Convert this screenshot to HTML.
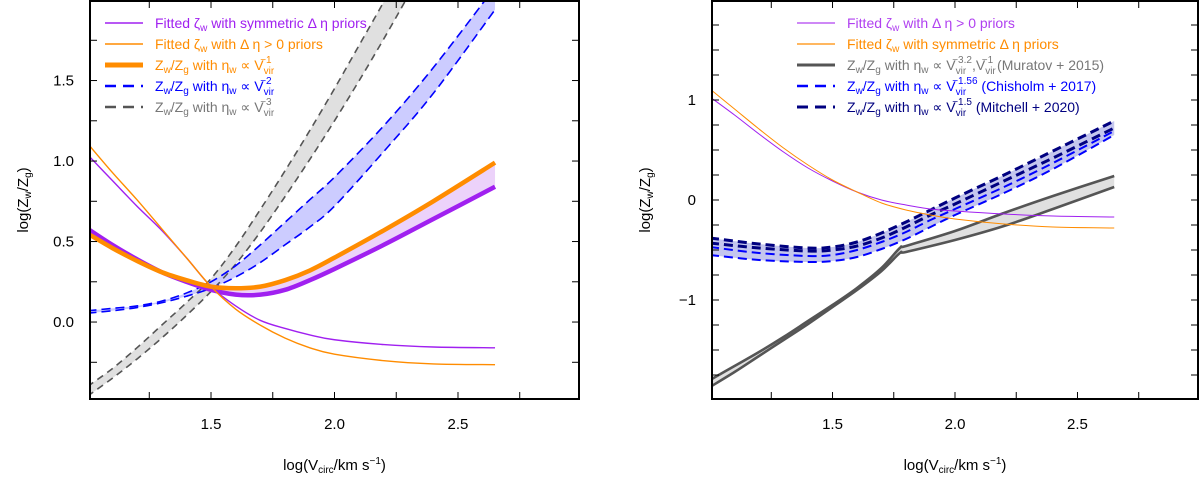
<!DOCTYPE html>
<html><head><meta charset="utf-8">
<style>
html,body{margin:0;padding:0;background:#fff;}
svg{display:block;font-family:"Liberation Sans",Arial,sans-serif;}
</style></head>
<body>
<svg id="fig" width="1200" height="479" viewBox="0 0 1200 479" xmlns="http://www.w3.org/2000/svg">
<defs>
<clipPath id="clipL"><rect x="90" y="1" width="489" height="398"/></clipPath>
<clipPath id="clipR"><rect x="712" y="1" width="486" height="398"/></clipPath>
</defs>
<g id="left"></g>
<g id="right"></g>
</svg>
<script>
// ---------- data: left panel ----------
const xL = [1.0,1.1,1.2,1.3,1.4,1.5,1.6,1.7,1.8,1.9,2.0,2.2,2.4,2.65];
const fitSymL = [1.04,0.88,0.72,0.57,0.40,0.22,0.10,0.01,-0.04,-0.08,-0.11,-0.14,-0.155,-0.16];
const fitPosL = [1.11,0.93,0.76,0.58,0.40,0.22,0.08,-0.02,-0.10,-0.16,-0.20,-0.24,-0.26,-0.265];
const v1Purple = [0.58,0.48,0.39,0.31,0.25,0.20,0.17,0.17,0.20,0.26,0.33,0.48,0.64,0.84];
const v1Orange = [0.55,0.46,0.38,0.31,0.26,0.22,0.21,0.22,0.26,0.32,0.40,0.57,0.75,0.99];
const v2Upper = [0.07,0.085,0.10,0.13,0.18,0.25,0.35,0.48,0.62,0.76,0.90,1.22,1.58,2.08];
const v2Lower = [0.055,0.07,0.09,0.12,0.16,0.21,0.28,0.37,0.48,0.59,0.72,1.06,1.42,1.94];
const xG = [1.0,1.1,1.2,1.3,1.4,1.5,1.6,1.7,1.8,1.9,2.0,2.1,2.2,2.3];
const v3Upper = [-0.40,-0.29,-0.16,-0.02,0.12,0.27,0.47,0.70,0.94,1.19,1.45,1.72,1.99,2.27];
const v3Lower = [-0.46,-0.35,-0.23,-0.10,0.04,0.19,0.36,0.56,0.78,1.01,1.25,1.50,1.76,2.03];
const yTicksL = [0.0,0.5,1.0,1.5];
const xTicks = [1.5,2.0,2.5];

// ---------- data: right panel ----------
const xR = [1.0,1.1,1.2,1.3,1.4,1.5,1.6,1.7,1.8,1.9,2.0,2.2,2.4,2.65];
const fitPosR = [1.03,0.85,0.66,0.48,0.32,0.19,0.08,0.0,-0.05,-0.09,-0.11,-0.14,-0.16,-0.17];
const fitSymR = [1.11,0.91,0.71,0.52,0.35,0.20,0.08,-0.03,-0.10,-0.15,-0.19,-0.24,-0.27,-0.28];
const xM = [1.0,1.1,1.2,1.3,1.4,1.5,1.6,1.7,1.775,1.8,2.0,2.2,2.4,2.65];
const murUpper = [-1.80,-1.66,-1.52,-1.37,-1.21,-1.05,-0.88,-0.68,-0.48,-0.46,-0.31,-0.13,0.04,0.24];
const murLower = [-1.87,-1.72,-1.56,-1.40,-1.24,-1.07,-0.90,-0.71,-0.53,-0.52,-0.40,-0.26,-0.09,0.13];
const xB = [1.0,1.2,1.4,1.5,1.6,1.7,1.8,1.9,2.0,2.2,2.4,2.65];
const mitUpper = [-0.38,-0.44,-0.48,-0.47,-0.42,-0.33,-0.22,-0.10,0.02,0.25,0.49,0.79];
const mitLower = [-0.43,-0.48,-0.51,-0.50,-0.46,-0.38,-0.27,-0.15,-0.04,0.19,0.42,0.72];
const chiUpper = [-0.47,-0.53,-0.56,-0.55,-0.50,-0.42,-0.32,-0.20,-0.09,0.13,0.37,0.69];
const chiLower = [-0.55,-0.60,-0.62,-0.61,-0.57,-0.49,-0.39,-0.27,-0.15,0.07,0.31,0.65];
const yTicksR = [-1,0,1];

const NS = "http://www.w3.org/2000/svg";
function mk(tag, attrs, parent){const e=document.createElementNS(NS,tag);for(const k in attrs)e.setAttribute(k,attrs[k]);parent.appendChild(e);return e;}

function smoothPath(pts){
  let d = "M"+pts[0][0].toFixed(2)+","+pts[0][1].toFixed(2);
  for(let i=0;i<pts.length-1;i++){
    const p0=pts[Math.max(0,i-1)],p1=pts[i],p2=pts[i+1],p3=pts[Math.min(pts.length-1,i+2)];
    const c1=[p1[0]+(p2[0]-p0[0])/6,p1[1]+(p2[1]-p0[1])/6];
    const c2=[p2[0]-(p3[0]-p1[0])/6,p2[1]-(p3[1]-p1[1])/6];
    d+=" C"+c1[0].toFixed(2)+","+c1[1].toFixed(2)+" "+c2[0].toFixed(2)+","+c2[1].toFixed(2)+" "+p2[0].toFixed(2)+","+p2[1].toFixed(2);
  }
  return d;
}
function revPath(pts){return smoothPath(pts.slice().reverse()).replace(/^M/,"L");}

function makePanel(g, ax, clipId){
  const X = v => ax.x0 + (v-ax.xmin)/(ax.xmax-ax.xmin)*(ax.x1-ax.x0);
  const Y = v => ax.y1 - (v-ax.ymin)/(ax.ymax-ax.ymin)*(ax.y1-ax.y0);
  const plot = mk("g",{"clip-path":"url(#"+clipId+")"},g);
  return {X,Y,plot};
}
function pts(P,xs,ys){return xs.map((x,i)=>[P.X(x),P.Y(ys[i])]);}
function band(P,xs,a,b,fill,name){
  const pa=pts(P,xs,a), pb=pts(P,xs,b);
  const e=mk("path",{d:smoothPath(pa)+" "+revPath(pb)+" Z",fill:fill,stroke:"none"},P.plot);
  
  
}
function line(P,xs,ys,color,w,dash,name){
  const e=mk("path",{d:smoothPath(pts(P,xs,ys)),fill:"none",stroke:color,"stroke-width":w,"stroke-dasharray":dash||"none","stroke-linecap":"butt"},P.plot);
  
  
}
function frame(g,P,ax,yt,yMinorStep,yfmt){
  const f=mk("rect",{x:ax.x0,y:ax.y0,width:ax.x1-ax.x0,height:ax.y1-ax.y0,fill:"none",stroke:"#000","stroke-width":2},g);
  
  
  for(let v=1.25; v<=2.76; v+=0.25){
    const x=P.X(v);
    mk("line",{x1:x,x2:x,y1:ax.y1,y2:ax.y1-7,stroke:"#000","stroke-width":1},g);
    mk("line",{x1:x,x2:x,y1:ax.y0,y2:ax.y0+7,stroke:"#000","stroke-width":1},g);
  }
  const start=Math.ceil(ax.ymin/yMinorStep)*yMinorStep;
  for(let v=start; v<ax.ymax; v+=yMinorStep){
    const y=P.Y(v);
    mk("line",{x1:ax.x0,x2:ax.x0+7,y1:y,y2:y,stroke:"#000","stroke-width":1},g);
    mk("line",{x1:ax.x1,x2:ax.x1-7,y1:y,y2:y,stroke:"#000","stroke-width":1},g);
  }
  xTicks.forEach(v=>{
    const t=mk("text",{x:P.X(v),y:429,"text-anchor":"middle","font-size":15,fill:"#000"},g);
    t.textContent=v.toFixed(1);
    
    
  });
  yt.forEach(v=>{
    const t=mk("text",{x:ax.x0-16,y:P.Y(v)+5,"text-anchor":"end","font-size":15,fill:"#000"},g);
    t.textContent=yfmt(v);
    
    
  });
  const xt=mk("text",{x:(ax.x0+ax.x1)/2,y:470,"text-anchor":"middle","font-size":15,fill:"#000"},g);
  xt.innerHTML='log(V<tspan font-size="10" dy="3">circ</tspan><tspan dy="-3">/km s</tspan><tspan font-size="10" dy="-6">−1</tspan><tspan dy="6">)</tspan>';
  
  
  const yx=ax.x0-62, yy=(ax.y0+ax.y1)/2;
  const ytl=mk("text",{x:yx,y:yy,"text-anchor":"middle","font-size":15,fill:"#000",transform:"rotate(-90 "+yx+" "+yy+")"},g);
  ytl.innerHTML='log(Z<tspan font-size="10" dy="3">w</tspan><tspan dy="-3">/Z</tspan><tspan font-size="10" dy="3">g</tspan><tspan dy="-3">)</tspan>';
  
  
}
function legend(g,x0,rows){
  rows.forEach((r,i)=>{
    const y=23+i*21;
    const lg=mk("g",{},g);
    
    
    mk("line",{x1:x0,x2:x0+38,y1:y,y2:y,stroke:r.c,"stroke-width":r.w,"stroke-dasharray":r.d||"none"},lg);
    const t=mk("text",{x:x0+50,y:y+5,"font-size":14,fill:r.tc||r.c},lg);
    t.innerHTML=r.html;
  });
}
const zw='Z<tspan font-size="10" dy="3">w</tspan><tspan dy="-3">/Z</tspan><tspan font-size="10" dy="3">g</tspan><tspan dy="-3"> with η</tspan><tspan font-size="10" dy="3">w</tspan><tspan dy="-3"> ∝ V</tspan>';
function vir(p){return '<tspan font-size="10" dy="4">vir</tspan><tspan font-size="10" dx="-14" dy="-11">'+p+'</tspan><tspan dy="7"> </tspan>';}
const zeta='Fitted ζ<tspan font-size="10" dy="3">w</tspan><tspan dy="-3"> with ';

// LEFT
const gL=document.getElementById("left");
const axL={x0:90,x1:579,y0:1,y1:399,xmin:1.01,xmax:2.99,ymin:-0.478,ymax:1.994};
const PL=makePanel(gL,axL,"clipL");
band(PL,xG,v3Upper,v3Lower,"#e0e0e0","v3-band");
band(PL,xL,v2Upper,v2Lower,"#ccccff","v2-band");
band(PL,xL,v1Orange,v1Purple,"#ecd2fa","v1-band");
line(PL,xG,v3Upper,"#555",1.6,"7,5","v3-upper-line");
line(PL,xG,v3Lower,"#555",1.6,"7,5","v3-lower-line");
line(PL,xL,v2Upper,"#0000ff",1.6,"9,5","v2-upper-line");
line(PL,xL,v2Lower,"#0000ff",1.6,"9,5","v2-lower-line");
line(PL,xL,v1Purple,"#a020f0",4.5,null,"v1-purple-line");
line(PL,xL,v1Orange,"#ff8c00",4.5,null,"v1-orange-line");
line(PL,xL,fitSymL,"#a020f0",1.4,null,"fitted-symmetric-line");
line(PL,xL,fitPosL,"#ff8c00",1.4,null,"fitted-positive-line");
frame(gL,PL,axL,yTicksL,0.25,v=>v.toFixed(1));
legend(gL,105,[
 {c:"#a020f0",w:1.5,html:zeta+'symmetric Δ η priors</tspan>'},
 {c:"#ff8c00",w:1.5,html:zeta+'Δ η &gt; 0 priors</tspan>'},
 {c:"#ff8c00",w:5,html:zw+vir('−1')},
 {c:"#0000ff",w:2.5,d:"11,7",html:zw+vir('−2')},
 {c:"#555",w:2.5,d:"11,7",tc:"#777",html:zw+vir('−3')}
]);

// RIGHT
const gR=document.getElementById("right");
const axR={x0:712,x1:1198,y0:1,y1:399,xmin:1.008,xmax:2.992,ymin:-1.99,ymax:1.99};
const PR=makePanel(gR,axR,"clipR");
band(PR,xM,murUpper,murLower,"#e0e0e0","muratov-band");
band(PR,xB,mitUpper,chiLower,"#c4c6ee","outflow-band");
line(PR,xM,murUpper,"#555",2.6,null,"muratov-upper-line");
line(PR,xM,murLower,"#555",2.6,null,"muratov-lower-line");
line(PR,xB,chiUpper,"#0000ff",2,"9,5","chisholm-upper-line");
line(PR,xB,chiLower,"#0000ff",2,"9,5","chisholm-lower-line");
line(PR,xB,mitUpper,"#000080",3,"9,5","mitchell-upper-line");
line(PR,xB,mitLower,"#000080",3,"9,5","mitchell-lower-line");
line(PR,xR,fitPosR,"#a020f0",1,null,"fitted-positive-line");
line(PR,xR,fitSymR,"#ff8c00",1,null,"fitted-symmetric-line");
frame(gR,PR,axR,yTicksR,0.25,v=>v<0?"−"+Math.abs(v):String(v));
legend(gR,797,[
 {c:"#b040f0",w:1.2,html:zeta+'Δ η &gt; 0 priors</tspan>'},
 {c:"#ff8c00",w:1.2,html:zeta+'symmetric Δ η priors</tspan>'},
 {c:"#555",w:3,tc:"#777",html:zw+'<tspan font-size="10" dy="4">vir</tspan><tspan font-size="10" dx="-14" dy="-11">−3.2</tspan><tspan dy="7">,V</tspan><tspan font-size="10" dy="4">vir</tspan><tspan font-size="10" dx="-14" dy="-11">−1</tspan><tspan dy="7"> (Muratov + 2015)</tspan>'},
 {c:"#0000ff",w:2.5,d:"11,7",html:zw+'<tspan font-size="10" dy="4">vir</tspan><tspan font-size="10" dx="-14" dy="-11">−1.56</tspan><tspan dy="7"> (Chisholm + 2017)</tspan>'},
 {c:"#000080",w:3,d:"11,7",html:zw+'<tspan font-size="10" dy="4">vir</tspan><tspan font-size="10" dx="-14" dy="-11">−1.5</tspan><tspan dy="7"> (Mitchell + 2020)</tspan>'}
]);
</script>
</body></html>
